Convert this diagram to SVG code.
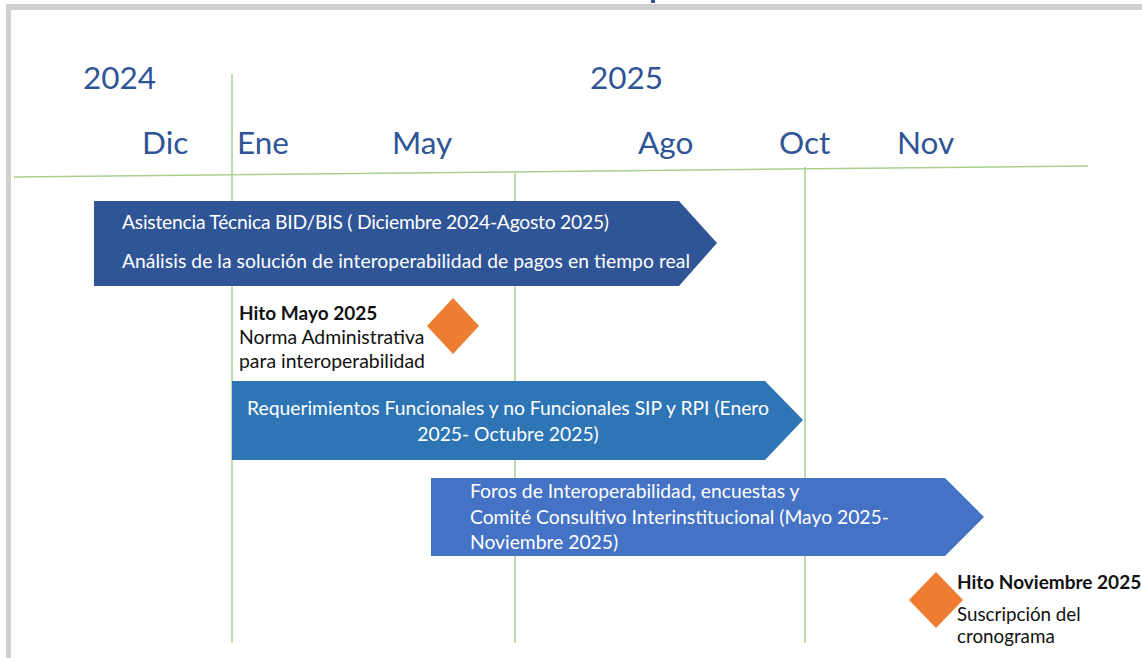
<svg xmlns="http://www.w3.org/2000/svg" width="1142" height="658" viewBox="0 0 1142 658">
<style>
.axis{font-family:Lato,"Open Sans","Liberation Sans",sans-serif;font-size:31.5px;fill:#2F5597}
.bar{font-family:Lato,"Open Sans","Liberation Sans",sans-serif;font-size:19.3px;fill:#FFFFFF}
.ms{font-family:Lato,"Open Sans","Liberation Sans",sans-serif;font-size:19.4px;fill:#111111}
.msb{font-weight:bold;font-size:19px}
.sm{font-size:18.8px}
.grid{stroke:#A9D18E;stroke-width:1.5;fill:none}
.dia{fill:#ED7D31}
</style>
<rect x="0" y="0" width="1142" height="658" fill="#FFFFFF"/>
<g id="frame">
<rect x="6" y="4" width="1136" height="6" fill="#D0D0D0"/>
<rect x="6" y="4" width="5" height="654" fill="#D0D0D0"/>
<rect x="651" y="0" width="4" height="3" fill="#2F5597"/>
</g>
<g id="connectors">
<line class="grid" x1="14" y1="177" x2="1088" y2="166" stroke="#7DB65A"/>
<line class="grid" x1="232" y1="74" x2="232" y2="643"/>
<line class="grid" x1="515" y1="173" x2="515" y2="643"/>
<line class="grid" x1="805" y1="167" x2="805" y2="643"/>
</g>
<g id="axis-labels">
<text class="axis" x="83" y="89">2024</text>
<text class="axis" x="590" y="89">2025</text>
<text class="axis" x="142" y="154">Dic</text>
<text class="axis" x="237" y="154">Ene</text>
<text class="axis" x="392" y="154">May</text>
<text class="axis" x="638" y="154">Ago</text>
<text class="axis" x="779" y="154">Oct</text>
<text class="axis" x="897" y="154">Nov</text>
</g>
<g id="bar-asistencia">
<polygon points="94,201 679,201 717,243 679,286 94,286" fill="#2F5597"/>
<text class="bar" x="122" y="229" textLength="487">Asistencia Técnica BID/BIS ( Diciembre 2024-Agosto 2025)</text>
<text class="bar" x="122" y="268" textLength="568">Análisis de la solución de interoperabilidad de pagos en tiempo real</text>
</g>
<g id="hito-mayo">
<polygon class="dia" points="453,298 479,326 453,354 427,326"/>
<text class="ms msb" x="239" y="320">Hito Mayo 2025</text>
<text class="ms" x="239" y="344">Norma Administrativa</text>
<text class="ms" x="239" y="368">para interoperabilidad</text>
</g>
<g id="bar-requerimientos">
<polygon points="232,381 765,381 803,420 765,460 232,460" fill="#2E75B6"/>
<text class="bar" x="508" y="415" text-anchor="middle">Requerimientos Funcionales y no Funcionales SIP y RPI (Enero</text>
<text class="bar" x="508" y="441" text-anchor="middle">2025- Octubre 2025)</text>
</g>
<g id="bar-foros">
<polygon points="431,478 945,478 984,517 945,556 431,556" fill="#4472C4"/>
<text class="bar" x="470" y="498">Foros de Interoperabilidad, encuestas y</text>
<text class="bar" x="470" y="524">Comité Consultivo Interinstitucional (Mayo 2025-</text>
<text class="bar" x="470" y="549">Noviembre 2025)</text>
</g>
<g id="hito-noviembre">
<polygon class="dia" points="936,572 963,600 936,628 909,600"/>
<text class="ms msb" x="957" y="589">Hito Noviembre 2025</text>
<text class="ms sm" x="957" y="621">Suscripción del</text>
<text class="ms sm" x="957" y="643">cronograma</text>
</g>
</svg>
